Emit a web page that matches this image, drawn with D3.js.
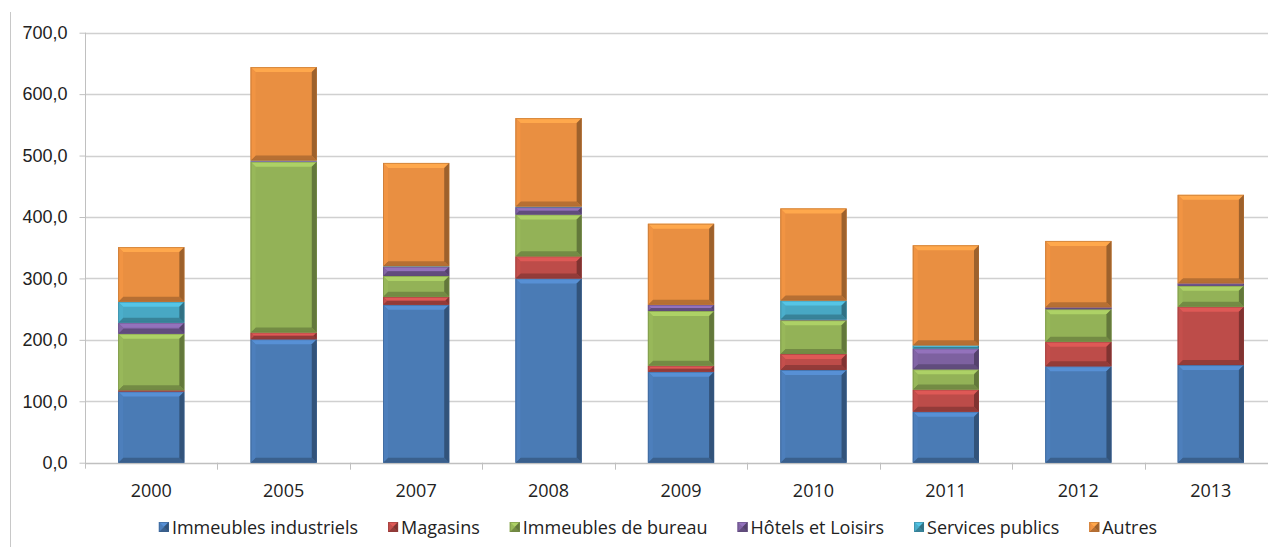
<!DOCTYPE html>
<html>
<head>
<meta charset="utf-8">
<script src="https://cdn.jsdelivr.net/npm/d3@7"></script>
<style>
  body { margin: 0; background: #fff; }
  svg { display: block; font-family: "Open Sans", "Noto Sans", sans-serif; }
</style>
</head>
<body>
<svg width="1268" height="547"></svg>
<script>
// données
const categories = ['2000', '2005', '2007', '2008', '2009', '2010', '2011', '2012', '2013']
const industriels = [116, 201, 257, 300, 148, 151, 83, 157, 159]
const magasins = [2, 11, 13, 36, 10, 26, 36, 40, 95]
const bureau = [92, 278, 34, 68, 89, 55, 33, 53, 34]
const hotels = [18, 1, 15, 12, 10, 1, 34, 3, 4]
const services = [34, 1, 1, 1, 0, 31, 5, 0, 0]
const autres = [89, 152, 168, 144, 132, 150, 163, 108, 144]
const seriesNames = ['Immeubles industriels', 'Magasins', 'Immeubles de bureau', 'Hôtels et Loisirs', 'Services publics', 'Autres']
const yTicks = [0, 100, 200, 300, 400, 500, 600, 700]

const colors = ['#4a7bb5', '#bd4c49', '#93b257', '#7d61a0', '#48a8c4', '#e98f41']
const seriesValues = [industriels, magasins, bureau, hotels, services, autres]
const keys = seriesNames

const svg = d3.select('svg')
const mLeft = 85, mTop = 32.7, mBottom = 462.7, mRight = 1277
const fontSize = 18

const xScale = d3.scaleBand().domain(categories).range([mLeft, mRight]).paddingInner(0.5).paddingOuter(0.25)
const yScale = d3.scaleLinear().domain([0, 700]).range([mBottom, mTop])

// table pour d3.stack
const table = categories.map((c, i) => {
  const row = { year: c }
  keys.forEach((k, j) => { row[k] = seriesValues[j][i] })
  return row
})
const stacked = d3.stack().keys(keys)(table)

// bordure gauche
svg.append('line').attr('x1', 10.5).attr('x2', 10.5).attr('y1', 12).attr('y2', 547)
  .attr('stroke', '#c8c8c8').attr('stroke-width', 1)

// grille
svg.append('g').selectAll('line').data(yTicks.slice(1)).join('line')
  .attr('x1', mLeft).attr('x2', 1268)
  .attr('y1', d => Math.round(yScale(d)) + 0.5).attr('y2', d => Math.round(yScale(d)) + 0.5)
  .attr('stroke', '#d0d0d0').attr('stroke-width', 1.3)

// axe y
const yAxis = svg.append('g').attr('transform', 'translate(' + (mLeft + 0.5) + ',0)')
  .call(d3.axisLeft(yScale).tickValues(yTicks).tickSize(6).tickPadding(12)
    .tickFormat(d => d3.format('.1f')(d).replace('.', ',')))
yAxis.select('.domain').attr('stroke', '#c0c0c0').attr('d', 'M0,' + mTop + 'V' + (mBottom + 6))
yAxis.selectAll('.tick line').attr('stroke', '#c0c0c0')
yAxis.selectAll('.tick text').attr('font-size', fontSize).attr('fill', '#222').attr('font-family', 'inherit')

// axe x
const xAxisG = svg.append('g')
xAxisG.append('line').attr('x1', mLeft).attr('x2', 1268)
  .attr('y1', Math.round(mBottom) + 0.5).attr('y2', Math.round(mBottom) + 0.5)
  .attr('stroke', '#c0c0c0').attr('stroke-width', 1.3)
const step = xScale.step()
xAxisG.selectAll('.xt').data(categories.slice(1)).join('line').attr('class', 'xt')
  .attr('x1', d => Math.round(xScale(d) - step * 0.25) + 0.5)
  .attr('x2', d => Math.round(xScale(d) - step * 0.25) + 0.5)
  .attr('y1', mBottom).attr('y2', mBottom + 7)
  .attr('stroke', '#c0c0c0')
xAxisG.selectAll('text').data(categories).join('text')
  .attr('x', d => xScale(d) + xScale.bandwidth() / 2)
  .attr('y', 497)
  .attr('text-anchor', 'middle').attr('font-size', fontSize).attr('fill', '#222')
  .text(d => d)

// barres avec effet biseau
function bevel(g, x, y, w, h, col) {
  const c = d3.color(col)
  g.append('rect').attr('x', x).attr('y', y).attr('width', w).attr('height', h).attr('fill', col)
  if (h < 0.5) return
  const b = Math.min(5, h / 2, w / 2)
  const pts = (arr) => arr.map(p => p.join(',')).join(' ')
  g.append('polygon').attr('fill', c.brighter(0.45)).attr('points', pts([[x, y], [x + w, y], [x + w - b, y + b], [x + b, y + b]]))
  g.append('polygon').attr('fill', c.darker(0.7)).attr('points', pts([[x, y + h], [x + w, y + h], [x + w - b, y + h - b], [x + b, y + h - b]]))
  g.append('polygon').attr('fill', c.brighter(0.1)).attr('points', pts([[x, y], [x + b, y + b], [x + b, y + h - b], [x, y + h]]))
  g.append('polygon').attr('fill', c.darker(1.1)).attr('points', pts([[x + w, y], [x + w - b, y + b], [x + w - b, y + h - b], [x + w, y + h]]))
  g.append('rect').attr('x', x + 0.5).attr('y', y + 0.5).attr('width', w - 1).attr('height', Math.max(0, h - 1))
    .attr('fill', 'none').attr('stroke', c.darker(0.8)).attr('stroke-opacity', 0.5).attr('stroke-width', 1)
}

const bars = svg.append('g')
stacked.forEach((s, j) => {
  s.forEach(d => {
    const y0 = yScale(d[0]), y1 = yScale(d[1])
    if (d[1] - d[0] <= 0) return
    bevel(bars, xScale(d.data.year), y1, xScale.bandwidth(), y0 - y1, colors[j])
  })
})

// légende
const legend = svg.append('g')
const items = legend.selectAll('g').data(seriesNames).join('g')
items.append('text').attr('x', 13).attr('y', 534).attr('font-size', fontSize).attr('fill', '#222').text(d => d)
let widths = []
items.each(function () { widths.push(this.querySelector('text').getComputedTextLength() + 13) })
const gap = 30
const total = d3.sum(widths) + gap * (widths.length - 1)
let cx = 658 - total / 2
items.each(function (d, i) {
  d3.select(this).attr('transform', 'translate(' + cx + ',0)')
  cx += widths[i] + gap
})
items.each(function (d, i) {
  bevel(d3.select(this), 0, 522, 10, 10, colors[i])
})
</script>
</body>
</html>
